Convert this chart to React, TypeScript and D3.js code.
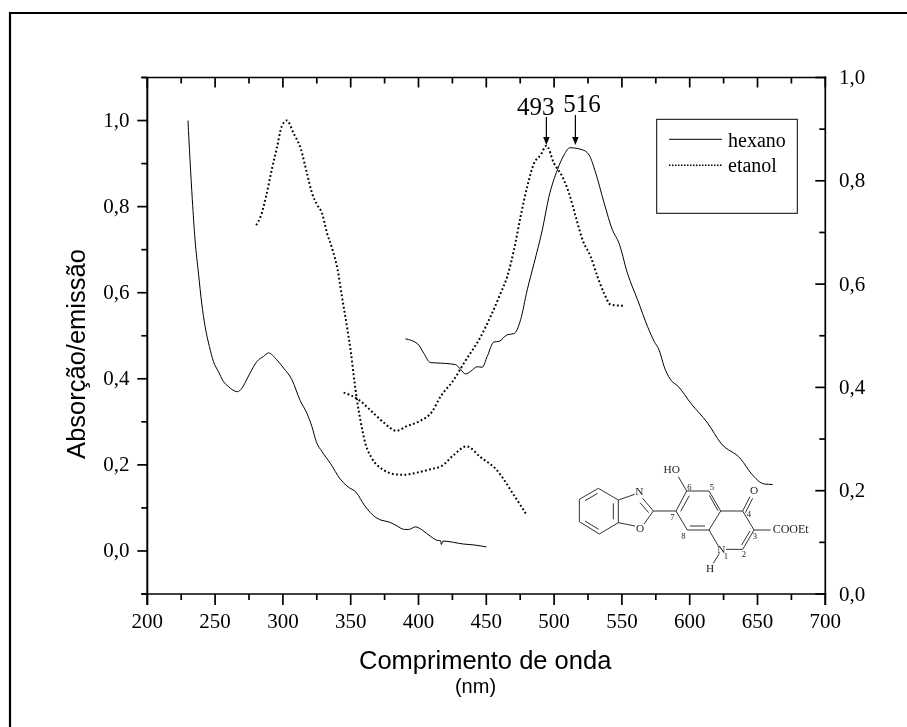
import React, { useEffect, useRef } from "react";
import * as d3 from "d3";

type P = [number, number];

const hexanoAbs: P[] = [[230,1.0],[231.5,.909],[233.2,.816],[235.2,.723],[237.7,.646],[240.1,.576],[242.6,.522],[245.8,.475],[248.8,.44],[252.4,.417],[256.1,.394],[259.8,.382],[266.5,.37],[269.7,.378],[273.9,.402],[277.1,.421],[280.8,.44],[285.7,.452],[289.4,.46],[295.5,.444],[300.5,.425],[306.6,.398],[312.8,.349],[317.7,.32],[321.4,.289],[324.6,.254],[328.8,.231],[334.9,.204],[342.3,.167],[347.2,.151],[354.6,.134],[359.5,.109],[364.5,.089],[369.4,.076],[373.1,.071],[378.7,.067],[384.2,.058],[389.6,.05],[392.8,.05],[397.7,.056],[402.6,.049],[408.8,.034],[414.9,.024],[416.2,.024],[416.9,.015],[417.9,.023],[433.4,.016],[440.8,.014],[450.1,.0094]];
const etanolAbs: P[] = [[280.3,.757],[283.7,.778],[287.6,.824],[291.8,.886],[295.5,.936],[299.2,.987],[302.9,1.0],[307.8,.971],[313.3,.933],[317.7,.878],[321.4,.832],[325.1,.805],[328.8,.785],[332.5,.739],[336.6,.7],[340.3,.654],[343.5,.592],[347.2,.522],[350.2,.46],[352.6,.398],[354.6,.351],[357.1,.305],[360.8,.25],[365.7,.215],[374.3,.188],[382.9,.178],[389.1,.177],[398.9,.182],[408.8,.19],[417.4,.198],[426,.223],[435.4,.243],[445.7,.218],[458,.187],[470.3,.13],[479.7,.084]];
const hexanoEm: P[] = [[390.4,.494],[399.5,.484],[403.9,.466],[408.8,.448],[416.2,.447],[427.3,.444],[431,.435],[434.7,.426],[438.4,.431],[443.3,.44],[447,.439],[450.7,.46],[455.6,.488],[459.3,.489],[465.5,.502],[470.4,.504],[475.3,.531],[480.2,.589],[485.2,.64],[491.3,.705],[496.2,.769],[502.4,.821],[507.3,.85],[511.7,.864],[520.9,.86],[525.8,.85],[530.7,.815],[536.9,.757],[543,.705],[547.9,.679],[554.1,.621],[561.5,.57],[568.9,.518],[573.8,.489],[577.5,.472],[581.2,.44],[585.6,.416],[591.5,.402],[600.9,.369],[613.2,.331],[623,.292],[637.8,.261],[645.2,.234],[655,.213],[661.2,.212]];
const etanolEm: P[] = [[344.8,.39],[355.9,.376],[365.7,.353],[374.3,.332],[383.7,.316],[391.5,.325],[400.2,.334],[410,.353],[416.2,.382],[426.1,.415],[433.5,.447],[445.8,.498],[460.5,.582],[465.5,.615],[470.4,.666],[475.3,.731],[480.2,.789],[485.2,.834],[490.1,.85],[494.3,.868],[499.9,.834],[506.1,.808],[511,.776],[515.9,.731],[520.9,.686],[527,.653],[531.9,.615],[536.9,.582],[541.8,.56],[551.1,.558]];

const xMajor = [200,250,300,350,400,450,500,550,600,650,700];
const xMinor = [225,275,325,375,425,475,525,575,625,675];
const leftMajor = [0,.2,.4,.6,.8,1];
const leftMinor = [-.1,.1,.3,.5,.7,.9,1.1];
const rightMajor = [0,.2,.4,.6,.8,1];
const rightMinor = [.1,.3,.5,.7,.9];
const peaks = [{ label: "493", nm: 494.3 }, { label: "516", nm: 515.7 }];
const legendItems = ["hexano", "etanol"];

const fmt = (v: number) => v.toFixed(1).replace(".", ",");

// Structure drawing, in a local 720x450 space
const bonds: number[][] = [
  [115,145,58,178],[58,178,58,245],[58,245,118,282],[118,282,175,248],[175,248,175,180],[175,180,115,145],
  [75,182,113,160],[75,243,116,268],[160,190,160,238],
  [175,180,224,163],[248,175,280,213],[240,188,266,218],[280,213,252,252],[225,258,175,248],
  [280,213,348,213],[348,213,380,153],[362,214,388,167],[380,153,447,153],[447,153,482,213],[448,166,474,212],
  [482,213,447,270],[447,270,382,270],[435,258,390,258],[382,270,348,213],
  [482,213,548,213],[548,213,582,270],[582,270,548,328],[570,273,545,315],[548,328,498,328],[447,270,475,318],
  [548,213,570,170],[556,218,578,175],[582,270,632,270],[478,340,460,370],[380,153,355,110],
];
const atomLabels: [string, number, number, number][] = [
  ["HO",335,100,34],["N",238,165,34],["O",240,275,34],["O",582,162,34],["N",484,338,34],["H",450,396,34],
  ["6",388,150,26],["5",456,150,26],["4",567,230,26],["7",337,240,26],["3",585,298,26],["8",370,296,26],["2",552,352,26],["1",498,356,26],
];

export default function App() {
  const ref = useRef<SVGSVGElement>(null);
  useEffect(() => {
    const svg = d3.select(ref.current!);
    svg.selectAll("*").remove();
    const serif = "'Liberation Serif', serif";
    const sans = "'Liberation Sans', sans-serif";
    const L = 147.3, R = 825.3, T = 77.5, B = 594;
    const x = d3.scaleLinear().domain([200, 700]).range([L, R]);
    const yL = d3.scaleLinear().domain([-0.1, 1.1]).range([B, T]);
    const yR = d3.scaleLinear().domain([0, 1]).range([B, T]);
    const line = (yy: d3.ScaleLinear<number, number>) =>
      d3.line<P>().x(d => x(d[0])).y(d => yy(d[1])).curve(d3.curveMonotoneX);

    // frame
    svg.append("path").attr("d", "M10,727V13H907").attr("fill", "none").attr("stroke", "#000").attr("stroke-width", 2.2);

    // curves
    const solid = (d: P[], yy: any) => svg.append("path").attr("d", line(yy)(d)).attr("fill", "none").attr("stroke", "#000").attr("stroke-width", 1);
    const dotted = (d: P[], yy: any) => svg.append("path").attr("d", line(yy)(d)).attr("fill", "none").attr("stroke", "#000").attr("stroke-width", 2).attr("stroke-dasharray", "1.8 2.4");
    solid(hexanoAbs, yL); dotted(etanolAbs, yL); solid(hexanoEm, yR); dotted(etanolEm, yR);

    // axes
    const ax = svg.append("g").attr("stroke", "#000");
    ax.append("line").attr("x1", L - 6).attr("x2", R + 1).attr("y1", T).attr("y2", T).attr("stroke-width", 1.5);
    ax.append("line").attr("x1", L - 6).attr("x2", R + 1).attr("y1", B).attr("y2", B).attr("stroke-width", 1.5);
    ax.append("line").attr("x1", L).attr("x2", L).attr("y1", T).attr("y2", B + 11).attr("stroke-width", 2);
    ax.append("line").attr("x1", R).attr("x2", R).attr("y1", T - 1).attr("y2", B + 11).attr("stroke-width", 1.7);
    const tk = (x1: number, y1: number, x2: number, y2: number, w = 1.7) =>
      ax.append("line").attr("x1", x1).attr("y1", y1).attr("x2", x2).attr("y2", y2).attr("stroke-width", w);
    xMajor.forEach(v => { tk(x(v), B, x(v), B + 11); tk(x(v), T, x(v), T + 10); });
    xMinor.forEach(v => { tk(x(v), B, x(v), B + 6); tk(x(v), T, x(v), T + 6); });
    leftMajor.forEach(v => tk(L - 10, yL(v), L, yL(v)));
    leftMinor.forEach(v => tk(L - 6, yL(v), L, yL(v)));
    rightMajor.forEach(v => tk(R - 10, yR(v), R, yR(v)));
    rightMinor.forEach(v => tk(R - 6, yR(v), R, yR(v)));

    const text = (s: string, xx: number, yy: number, size: number, anchor = "middle", font = serif) =>
      svg.append("text").attr("x", xx).attr("y", yy).attr("font-size", size).attr("font-family", font).attr("text-anchor", anchor).attr("fill", "#000").text(s);

    xMajor.forEach(v => text(String(v), x(v), 628, 21));
    leftMajor.forEach(v => text(fmt(v), 129.5, yL(v) + 6.5, 21, "end"));
    rightMajor.forEach(v => text(fmt(v), 839, yR(v) + 6.5, 21, "start"));

    text("Comprimento de onda", 359, 668.5, 25.5, "start", sans);
    text("(nm)", 475.5, 693, 20, "middle", sans);
    text("Absorção/emissão", 0, 0, 25.5, "middle", sans).attr("transform", "translate(85,354) rotate(-90)");

    // peak arrows
    peaks.forEach((p, i) => {
      const px = x(p.nm);
      const tip = 145, top = i === 0 ? 117 : 115;
      svg.append("line").attr("x1", px).attr("x2", px).attr("y1", top).attr("y2", tip - 4).attr("stroke", "#000").attr("stroke-width", 1.2);
      svg.append("path").attr("d", `M${px - 3.2},${tip - 8}L${px + 3.2},${tip - 8}L${px},${tip}Z`).attr("fill", "#000");
      text(p.label, i === 0 ? 535.7 : 582, i === 0 ? 115 : 111.5, 25);
    });

    // legend
    svg.append("rect").attr("x", 656.7).attr("y", 119.3).attr("width", 140.6).attr("height", 94).attr("fill", "none").attr("stroke", "#000").attr("stroke-width", 1);
    svg.append("line").attr("x1", 669).attr("x2", 722).attr("y1", 139.3).attr("y2", 139.3).attr("stroke", "#000").attr("stroke-width", 1);
    svg.append("line").attr("x1", 669).attr("x2", 722).attr("y1", 165.3).attr("y2", 165.3).attr("stroke", "#000").attr("stroke-width", 1.5).attr("stroke-dasharray", "1.5 1.5");
    legendItems.forEach((s, i) => text(s, 728, i === 0 ? 147 : 171.5, 20, "start"));

    // structure
    const g = svg.append("g").attr("transform", `translate(560 440) scale(${1 / 3})`);
    bonds.forEach(b =>
      g.append("line").attr("x1", b[0]).attr("y1", b[1]).attr("x2", b[2]).attr("y2", b[3]).attr("stroke", "#222").attr("stroke-width", 2.8));
    atomLabels.forEach(a =>
      g.append("text").attr("x", a[1]).attr("y", a[2]).attr("font-size", a[3]).attr("font-family", serif).attr("text-anchor", "middle").attr("fill", "#222").text(a[0]));
    g.append("text").attr("x", 638).attr("y", 279).attr("font-size", 36).attr("font-family", serif).attr("fill", "#222").text("COOEt");
  }, []);
  return (
    <svg ref={ref} width={907} height={727} style={{ position: "absolute", left: 0, top: 0, willChange: "transform" }} />
  );
}
